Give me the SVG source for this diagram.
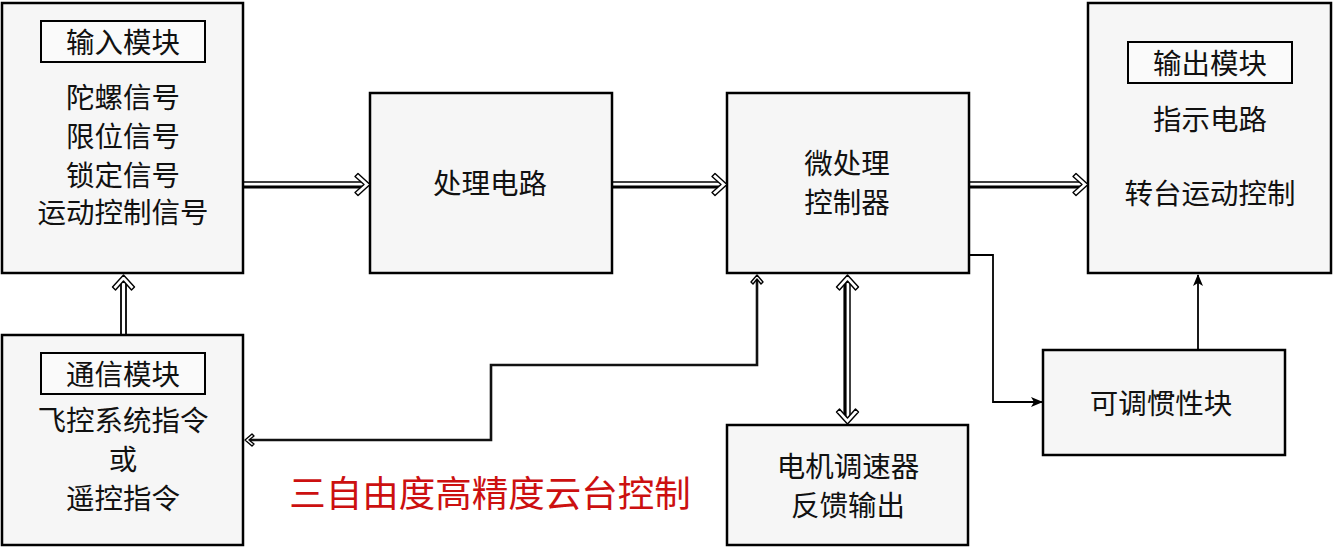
<svg xmlns="http://www.w3.org/2000/svg" xmlns:xlink="http://www.w3.org/1999/xlink" width="1333" height="548" viewBox="0 0 1333 548">
<style>
.box{fill:#f6f6f6;stroke:#000;stroke-width:2.5}
.lbl{fill:#fafafa;stroke:#000;stroke-width:2}
.t{font-family:"Noto Sans CJK SC","Noto Sans CJK JP",sans-serif;font-size:28.5px;fill:#111;text-anchor:middle;dominant-baseline:central}
.title{font-family:"Noto Sans CJK SC","Noto Sans CJK JP",sans-serif;font-size:36.5px;fill:#cc1010;text-anchor:middle;dominant-baseline:central}
.thin{stroke:#000;stroke-width:1.5;fill:none}
.thick{stroke:#000;stroke-width:3.2;fill:none}
.line{stroke:#000;stroke-width:1.8;fill:none}
.fb{stroke:#111;stroke-width:2.6;fill:none}
.chev{fill:#fff;stroke:#000;stroke-width:1.4;stroke-linejoin:round}
</style>
<defs>
<path id="chev" d="M0,0 L-12,-11 L-15,-8 L-6,0 L-15,8 L-12,11 Z"/>
<path id="chevs" d="M0,0 L-7,-6 L-9,-4 L-4,0 L-9,4 L-7,6 Z"/>
<marker id="tri" markerWidth="12" markerHeight="10" refX="11" refY="5" orient="auto" markerUnits="userSpaceOnUse">
<path d="M0,0 L12,5 L0,10 L3,5 Z" fill="#000"/>
</marker>
</defs>

<g id="input-module">
<rect class="box" x="2" y="3" width="241" height="270"/>
<rect class="lbl" x="41" y="21" width="164" height="41"/>
<text class="t" x="123" y="40">输入模块</text>
<text class="t" x="123" y="95">陀螺信号</text>
<text class="t" x="123" y="134">限位信号</text>
<text class="t" x="123" y="173">锁定信号</text>
<text class="t" x="123" y="210">运动控制信号</text>
</g>

<g id="processing-circuit">
<rect class="box" x="370" y="93" width="242" height="180"/>
<text class="t" x="490" y="181">处理电路</text>
</g>

<g id="micro-controller">
<rect class="box" x="727" y="93" width="242" height="180"/>
<text class="t" x="847" y="161">微处理</text>
<text class="t" x="847" y="200">控制器</text>
</g>

<g id="output-module">
<rect class="box" x="1088" y="3" width="243" height="270"/>
<rect class="lbl" x="1128" y="42" width="164" height="41"/>
<text class="t" x="1210" y="61">输出模块</text>
<text class="t" x="1210" y="117">指示电路</text>
<text class="t" x="1210" y="191">转台运动控制</text>
</g>

<g id="comm-module">
<rect class="box" x="2" y="335" width="241" height="210"/>
<rect class="lbl" x="41" y="353" width="164" height="41"/>
<text class="t" x="123" y="372">通信模块</text>
<text class="t" x="123" y="418">飞控系统指令</text>
<text class="t" x="123" y="457">或</text>
<text class="t" x="123" y="496">遥控指令</text>
</g>

<g id="motor-esc">
<rect class="box" x="727" y="425" width="241" height="120"/>
<text class="t" x="848" y="464">电机调速器</text>
<text class="t" x="848" y="503">反馈输出</text>
</g>

<g id="inertia-block">
<rect class="box" x="1043" y="350" width="242" height="105"/>
<text class="t" x="1161" y="401">可调惯性块</text>
</g>

<g id="title">
<text class="title" x="490" y="491">三自由度高精度云台控制</text>
</g>

<g id="connectors">
<line class="thin" x1="244" y1="182" x2="364" y2="182"/>
<line class="thick" x1="244" y1="187" x2="364" y2="187"/>
<use xlink:href="#chev" class="chev" transform="translate(370,184.5)"/>
<line class="thin" x1="613" y1="182" x2="721" y2="182"/>
<line class="thick" x1="613" y1="187" x2="721" y2="187"/>
<use xlink:href="#chev" class="chev" transform="translate(727,184.5)"/>
<line class="thin" x1="970" y1="182" x2="1082" y2="182"/>
<line class="thick" x1="970" y1="187" x2="1082" y2="187"/>
<use xlink:href="#chev" class="chev" transform="translate(1088,184.5)"/>
<line class="line" x1="121" y1="334" x2="121" y2="281"/>
<line class="line" x1="126" y1="334" x2="126" y2="281"/>
<use xlink:href="#chev" class="chev" transform="translate(123.5,275) rotate(-90)"/>
<line class="thick" x1="845" y1="281" x2="845" y2="418"/>
<line class="thin" x1="850" y1="281" x2="850" y2="418"/>
<use xlink:href="#chev" class="chev" transform="translate(847.5,275) rotate(-90)"/>
<use xlink:href="#chev" class="chev" transform="translate(847.5,424) rotate(90)"/>
<polyline class="fb" points="757,279 757,365 491,365 491,440 250,440"/>
<use xlink:href="#chevs" class="chev" transform="translate(757,275) rotate(-90)"/>
<use xlink:href="#chevs" class="chev" transform="translate(245,440) rotate(180)"/>
<polyline class="line" points="969,255 993,255 993,402 1042,402" marker-end="url(#tri)"/>
<line class="line" x1="1198" y1="350" x2="1198" y2="275" marker-end="url(#tri)"/>
</g>
</svg>
